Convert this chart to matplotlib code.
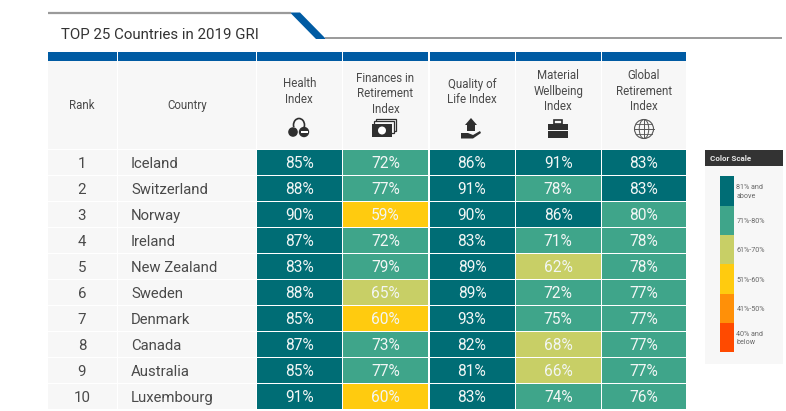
import matplotlib
matplotlib.use("Agg")
import matplotlib.pyplot as plt
from matplotlib.patches import Rectangle, Polygon, Circle, Ellipse

plt.rcParams['font.family'] = ['Roboto', 'DejaVu Sans']

ranks = [1, 2, 3, 4, 5, 6, 7, 8, 9, 10]
countries = ["Iceland", "Switzerland", "Norway", "Ireland", "New Zealand",
             "Sweden", "Denmark", "Canada", "Australia", "Luxembourg"]
health = [85, 88, 90, 87, 83, 88, 85, 87, 85, 91]
finances = [72, 77, 59, 72, 79, 65, 60, 73, 77, 60]
quality = [86, 91, 90, 83, 89, 89, 93, 82, 81, 83]
material = [91, 78, 86, 71, 62, 72, 75, 68, 66, 74]
global_index = [83, 83, 80, 78, 78, 77, 77, 77, 77, 76]
headers = ["Rank", "Country", "Health\nIndex", "Finances in\nRetirement\nIndex",
           "Quality of\nLife Index", "Material\nWellbeing\nIndex", "Global\nRetirement\nIndex"]
header_y = [105.5, 105.5, 91.5, 93.8, 92, 91.3, 91.3]
scale_labels = ["81% and\nabove", "71%-80%", "61%-70%", "51%-60%", "41%-50%", "40% and\nbelow"]
scale_colors = ["#006d75", "#3fa58a", "#c8cf66", "#ffcb0f", "#ff9008", "#ff4a00"]
scale_floors = [81, 71, 61, 51, 41, 0]

BLUE = "#005ba3"; PANEL = "#f7f7f7"; TXT = "#4a4a4a"
col_edges = [(48, 116.5), (118, 255.5), (257, 341.5), (343, 428), (429.5, 514.5), (516, 600.5), (602, 686)]
ROW_TOP, ROW_H = 150, 26

fig = plt.figure(figsize=(7.86, 4.11), dpi=100)
ax = fig.add_axes([0, 0, 1, 1])
ax.set_xlim(0, 786); ax.set_ylim(411, 0); ax.axis("off")

def rect(x0, y0, x1, y1, c, z=1):
    ax.add_patch(Rectangle((x0, y0), x1 - x0, y1 - y0, fc=c, ec="none", zorder=z))

def colour(v):
    for floor, c in zip(scale_floors, scale_colors):
        if v >= floor:
            return c
    return scale_colors[-1]

# title banner
ax.plot([48, 291], [13, 13], color="#9a9a9a", lw=1.6, solid_capstyle="butt")
ax.plot([325, 782], [38.5, 38.5], color="#9a9a9a", lw=1.4, solid_capstyle="butt")
ax.add_patch(Polygon([(290, 12.5), (300, 12.5), (326, 39), (316, 39)], fc=BLUE, ec="none"))
ax.text(61, 35, "TOP 25 Countries in 2019 GRI", fontsize=10.8, color="#333333", va="center", ha="left")

# header
for (x0, x1), h, y in zip(col_edges, headers, header_y):
    rect(x0, 52, x1, 61, BLUE)
    rect(x0, 61, x1, 149, PANEL)
    ax.text((x0 + x1) / 2, y, h, fontsize=8.3, color=TXT, ha="center", va="center", linespacing=1.25)

# header icons
K = "#2f2f2f"
cx = 299
ax.add_patch(Ellipse((cx, 125), 11, 13, fc="none", ec=K, lw=1.2))
rect(cx - 7, 127, cx + 7, 133, PANEL, 1.5)
ax.add_patch(Circle((cx - 6, 132), 4.8, fc=K, ec="none", zorder=2))
ax.add_patch(Circle((cx + 5, 132), 5.2, fc=K, ec="none", zorder=2))
rect(cx + 1.5, 131, cx + 8.5, 133, "white", 3)
cx = 385
for d in (4, 2):
    ax.add_patch(Rectangle((cx - 13 + d, 121 - d + 2), 20, 12, fc=PANEL, ec=K, lw=0.9))
rect(cx - 13, 124, cx + 7, 137, K, 3)
ax.add_patch(Circle((cx - 3, 130.5), 4, fc="white", ec="none", zorder=4))
cx = 471
ax.add_patch(Polygon([(cx - 6, 125), (cx, 118), (cx + 6, 125), (cx + 4, 125), (cx + 4, 131), (cx - 4, 131), (cx - 4, 125)], fc=K, ec="none"))
ax.add_patch(Polygon([(cx - 10, 133), (cx - 3, 133), (cx + 2, 135), (cx + 9, 131), (cx + 10, 133), (cx + 2, 138.5), (cx - 10, 138.5)], fc=K, ec="none"))
cx = 558
rect(cx - 10, 124, cx + 10, 138, K)
rect(cx - 10, 130, cx + 10, 131, PANEL, 2)
ax.add_patch(Rectangle((cx - 4, 120), 8, 4, fc="none", ec=K, lw=1.2))
cx = 644
ax.add_patch(Circle((cx, 129), 9.5, fc="none", ec="#555555", lw=0.8))
ax.add_patch(Ellipse((cx, 129), 9.5, 19, fc="none", ec="#555555", lw=0.7))
ax.plot([cx - 9.5, cx + 9.5], [129, 129], color="#555555", lw=0.7)
ax.plot([cx, cx], [119.5, 138.5], color="#555555", lw=0.7)
ax.plot([cx - 8, cx + 8], [124, 124], color="#555555", lw=0.6)
ax.plot([cx - 8, cx + 8], [134, 134], color="#555555", lw=0.6)

# rows
series = [health, finances, quality, material, global_index]
for i, (r, c) in enumerate(zip(ranks, countries)):
    y0 = ROW_TOP + i * ROW_H
    y1 = y0 + ROW_H - 1
    ym = y0 + ROW_H / 2 + 0.8
    rect(col_edges[0][0], y0, col_edges[0][1], y1, PANEL)
    rect(col_edges[1][0], y0, col_edges[1][1], y1, PANEL)
    ax.text(82, ym, str(r), fontsize=10.8, color=TXT, ha="center", va="center")
    ax.text(131, ym, c, fontsize=10.7, color=TXT, ha="left", va="center")
    for (x0, x1), s in zip(col_edges[2:], series):
        v = s[i]
        rect(x0, y0, x1, y1, colour(v))
        ax.text((x0 + x1) / 2, ym, f"{v}%", fontsize=11.2, color="#f2f6f5", ha="center", va="center")

# colour scale
rect(705, 166, 783, 364, PANEL)
rect(705, 150, 783, 166, "#333333")
ax.text(710.5, 158.5, "Color Scale", fontsize=5.8, color="#e6e6e6", fontweight="bold", ha="left", va="center")
SEG = 29.3
for i, (lab, c) in enumerate(zip(scale_labels, scale_colors)):
    y0 = 176.5 + i * SEG
    rect(720, y0, 733.5, y0 + SEG, c, 2)
    ax.text(736.5, y0 + SEG / 2 + 1, lab, fontsize=5.1, color="#666666", ha="left", va="center", linespacing=1.3)

fig.savefig("out.png", dpi=100)
